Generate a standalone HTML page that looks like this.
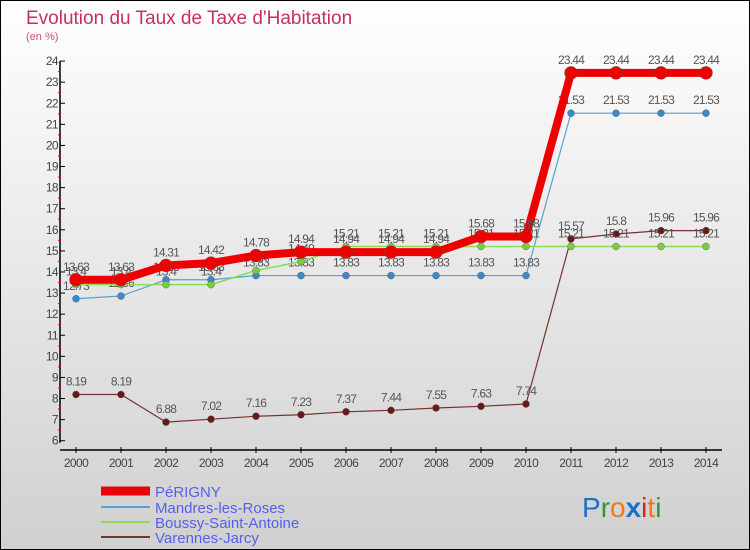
<!DOCTYPE html>
<html><head><meta charset="utf-8"><style>
body{margin:0}
#wrap{width:750px;height:550px;position:relative;overflow:hidden;font-family:"Liberation Sans",sans-serif}
</style></head><body>
<div id="wrap">
<svg id="svg" width="750" height="550" xmlns="http://www.w3.org/2000/svg">
<defs><linearGradient id="bg" x1="0" y1="0" x2="0" y2="1"><stop offset="0" stop-color="#ffffff"/><stop offset="1" stop-color="#d0d0d0"/></linearGradient></defs>
<rect x="0.5" y="0.5" width="749" height="549" fill="url(#bg)" stroke="#000"/>
<text x="26" y="24" font-size="19" fill="#c8305a">Evolution du Taux de Taxe d'Habitation</text>
<text x="26" y="40" font-size="11" fill="#c8508a">(en %)</text>
<g id="axes"></g><g id="series"></g><g id="legend"></g>
<text x="582" y="517" font-size="28" font-family="Liberation Sans,sans-serif"><tspan fill="#1a73c9">P</tspan><tspan fill="#2a9a3a">r</tspan><tspan fill="#f07a10">o</tspan><tspan fill="#1a73c9" font-weight="bold">x</tspan><tspan fill="#e02020">i</tspan><tspan fill="#f07a10">t</tspan><tspan fill="#2a9a3a">i</tspan></text>
</svg>
</div>
<script>
const years=[2000,2001,2002,2003,2004,2005,2006,2007,2008,2009,2010,2011,2012,2013,2014];
const perigny=[13.63,13.63,14.31,14.42,14.78,14.94,14.94,14.94,14.94,15.68,15.68,23.44,23.44,23.44,23.44];
const mandres=[12.73,12.86,13.63,13.63,13.83,13.83,13.83,13.83,13.83,13.83,13.83,21.53,21.53,21.53,21.53];
const boussy=[13.4,13.4,13.4,13.4,14.07,14.49,15.21,15.21,15.21,15.21,15.21,15.21,15.21,15.21,15.21];
const varennes=[8.19,8.19,6.88,7.02,7.16,7.23,7.37,7.44,7.55,7.63,7.74,15.57,15.8,15.96,15.96];
const yTicks=[6,7,8,9,10,11,12,13,14,15,16,17,18,19,20,21,22,23,24];
const seriesNames=["PéRIGNY","Mandres-les-Roses","Boussy-Saint-Antoine","Varennes-Jarcy"];

const NS="http://www.w3.org/2000/svg";
const X=i=>76+i*45;
const Y=v=>440.7-(v-6)*21.09;
function mk(p,t,a){const e=document.createElementNS(NS,t);for(const k in a)e.setAttribute(k,a[k]);p.appendChild(e);return e;}
const axes=document.getElementById('axes');
let el=mk(axes,'line',{x1:60,y1:Y(24),x2:60,y2:Y(6)+2,stroke:'#000','stroke-width':1.5});


el=mk(axes,'line',{x1:60,y1:450,x2:722,y2:450,stroke:'#000','stroke-width':1.5});


yTicks.forEach(v=>{
  mk(axes,'line',{x1:60,y1:Y(v),x2:65,y2:Y(v),stroke:'#000'});
  if(v<24) mk(axes,'line',{x1:58,y1:Y(v+0.5),x2:61,y2:Y(v+0.5),stroke:'#e00'});
  const t=mk(axes,'text',{x:58,y:Y(v)+4,'text-anchor':'end','font-size':12,fill:'#444','letter-spacing':'-0.6'});
  t.textContent=v;
  
  
});
years.forEach((y,i)=>{
  mk(axes,'line',{x1:X(i),y1:447,x2:X(i),y2:453,stroke:'#000'});
  const t=mk(axes,'text',{x:X(i),y:467,'text-anchor':'middle','font-size':12,fill:'#444','letter-spacing':'-0.6'});
  t.textContent=y;
  
  
});
const sg=document.getElementById('series');
function draw(vals,color,w,r,name,mark){
  const g=mk(sg,'g',{});
  
  
  mk(g,'polyline',{points:vals.map((v,i)=>X(i)+','+Y(v)).join(' '),fill:'none',stroke:color,'stroke-width':w,'stroke-linejoin':'round'});
  vals.forEach((v,i)=>{
    const c=mk(g,'circle',{cx:X(i),cy:Y(v),r:r,fill:mark,stroke:'#555','stroke-width':0.4});
    
    
    const t=mk(g,'text',{x:X(i),y:Y(v)-9,'text-anchor':'middle','font-size':12,fill:'#555','letter-spacing':'-0.8'});
    t.textContent=v;
  });
}
draw(varennes,'#7a3030',1.2,3.5,'series-varennes','#6a1818');
draw(mandres,'#5aa0d0',1.2,3.5,'series-mandres','#3a8ac8');
draw(boussy,'#88dd55',1.5,3.5,'series-boussy','#7ccc40');
draw(perigny,'#ee0000',8,6.5,'series-perigny','#ee0000');
const lg=document.getElementById('legend');
const lc=['#ee0000','#5aa0d0','#88dd55','#7a3030'],lw=[9,2,2,2],ly=[491,507,522,537];
seriesNames.forEach((n,i)=>{
  const g=mk(lg,'g',{});
  
  
  mk(g,'line',{x1:101,y1:ly[i],x2:150,y2:ly[i],stroke:lc[i],'stroke-width':lw[i]});
  const t=mk(g,'text',{x:155,y:ly[i]+6,'font-size':15,fill:'#5560ee'});
  t.textContent=n;
});
</script>
</body></html>
